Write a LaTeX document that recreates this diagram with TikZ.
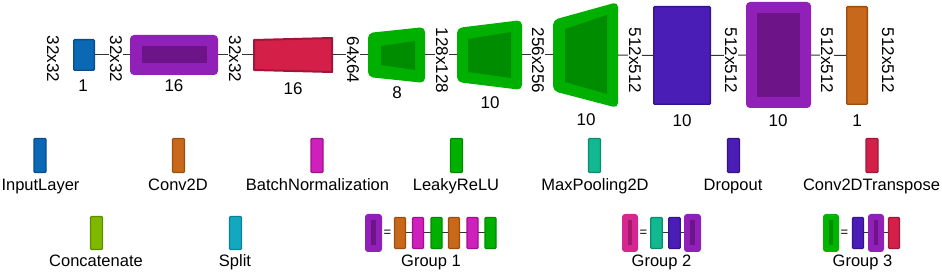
\documentclass[tikz,border=0pt]{standalone}
\usepackage{fontspec}
\setmainfont{Liberation Sans}
\definecolor{cin}{HTML}{0A68B4}\definecolor{bin}{HTML}{0A4C8C}
\definecolor{cconv}{HTML}{C8681A}\definecolor{bconv}{HTML}{9A4E10}
\definecolor{cbn}{HTML}{D020BC}\definecolor{bbn}{HTML}{A0108E}
\definecolor{crelu}{HTML}{00B000}\definecolor{brelu}{HTML}{008A00}
\definecolor{cpool}{HTML}{12B890}\definecolor{bpool}{HTML}{0C8C6C}
\definecolor{cdrop}{HTML}{4A1EB6}\definecolor{bdrop}{HTML}{36128A}
\definecolor{ctr}{HTML}{D42048}\definecolor{btr}{HTML}{A0163A}
\definecolor{ccat}{HTML}{80B800}\definecolor{bcat}{HTML}{5E8C00}
\definecolor{csplit}{HTML}{12A8C0}\definecolor{bsplit}{HTML}{0C8294}
\definecolor{cgA}{HTML}{9020B8}\definecolor{igA}{HTML}{6C1488}
\definecolor{cgB}{HTML}{D42890}\definecolor{igB}{HTML}{A4186E}
\definecolor{cgC}{HTML}{00B400}\definecolor{igC}{HTML}{008C00}
\definecolor{lin}{HTML}{333333}
\begin{document}
\begin{tikzpicture}[x=1pt,y=-1pt,
  txt/.style={font=\fontsize{17}{20}\selectfont, inner sep=0pt, text=black},
  dim/.style={txt, rotate=-90, fill=white, inner sep=1pt},
  num/.style={txt, anchor=base},
  leg/.style={txt, anchor=base, font=\fontsize{16.5}{20}\selectfont},
  bar/.style 2 args={draw=#2, fill=#1, line width=1.3pt, rounded corners=1pt, inner sep=0pt},
  grp/.style={fill=#1, rounded corners=4pt, inner sep=0pt},
  ginner/.style={fill=#1, inner sep=0pt},
  conn/.style={draw=lin, line width=1pt},
  eqs/.style={txt, font=\fontsize{13}{14}\selectfont}
]
\useasboundingbox (0,0) rectangle (942,272);

% ---------- top row ----------
\node[bar={cin}{bin}, minimum width=20.7pt, minimum height=30.7pt] (in) at (84,55) {};
\node[grp=cgA, minimum width=88pt, minimum height=40pt] (gA) at (174,55) {};
\node[ginner=igA, minimum width=65pt, minimum height=17pt] (gAi) at (174.5,54.5) {};
\draw[fill=ctr, draw=btr, line width=2pt, line join=round] (254,40) -- (332,38) -- (332,72) -- (254,70) -- cycle;
\coordinate (trw) at (253,55); \coordinate (tre) at (333,55);
\fill[crelu, rounded corners=5pt] (368,33) -- (425,27) -- (425,83) -- (368,77) -- cycle;
\fill[igC] (381,46) -- (415,41) -- (415,70) -- (381,65) -- cycle;
\coordinate (r1w) at (368,55); \coordinate (r1e) at (425,55);
\fill[crelu, rounded corners=5pt] (457,28) -- (522,20) -- (522,90) -- (457,82) -- cycle;
\fill[igC] (468,39) -- (511,32) -- (511,78) -- (468,72) -- cycle;
\coordinate (r2w) at (457,55); \coordinate (r2e) at (522,55);
\fill[crelu, rounded corners=5pt] (553,20) -- (618,2) -- (618,108) -- (553,91) -- cycle;
\fill[igC] (565,29) -- (607,15) -- (607,94) -- (565,82) -- cycle;
\coordinate (r3w) at (553,55); \coordinate (r3e) at (618,55);
\node[bar={cdrop}{bdrop}, minimum width=56.7pt, minimum height=97.7pt] (dr) at (682,55.5) {};
\node[grp=cgA, minimum width=65pt, minimum height=106pt] (gB) at (778.5,55) {};
\node[ginner=igA, minimum width=43pt, minimum height=84pt] (gBi) at (778.5,55) {};
\node[bar={cconv}{bconv}, minimum width=20.7pt, minimum height=97.7pt] (cv) at (857,55.5) {};

\draw[conn] (in.east) -- (gA.west);
\draw[conn] (gA.east) -- (trw);
\draw[conn] (tre) -- (r1w);
\draw[conn] (r1e) -- (r2w);
\draw[conn] (r2e) -- (r3w);
\draw[conn] (r3e) -- (dr.west);
\draw[conn] (dr.east) -- (gB.west);
\draw[conn] (gB.east) -- (cv.west);

\node[dim] (d0) at (53,59) {32x32};
\node[dim] (d1) at (116,59) {32x32};
\node[dim] (d2) at (235,59) {32x32};
\node[dim] (d3) at (353,60) {64x64};
\node[dim] (d4) at (442,60.5) {128x128};
\node[dim] (d5) at (538,60.5) {256x256};
\node[dim] (d6) at (635,60.5) {512x512};
\node[dim] (d7) at (731,60.5) {512x512};
\node[dim] (d8) at (827,60.5) {512x512};
\node[dim] (d9) at (888,60.5) {512x512};

\node[num] (n0) at (83,92) {1};
\node[num] (n1) at (174,92) {16};
\node[num] (n2) at (293,95) {16};
\node[num] (n3) at (397,99) {8};
\node[num] (n4) at (490,109) {10};
\node[num] (n5) at (586,126) {10};
\node[num] (n6) at (682,127) {10};
\node[num] (n7) at (778,127) {10};
\node[num] (n8) at (857,127) {1};

% ---------- legend row 1 ----------
\node[bar={cin}{bin}, minimum width=12pt, minimum height=34pt] (l1) at (40,155.5) {};
\node[bar={cconv}{bconv}, minimum width=12pt, minimum height=34pt] (l2) at (178.5,155.5) {};
\node[bar={cbn}{bbn}, minimum width=12pt, minimum height=34pt] (l3) at (317,155.5) {};
\node[bar={crelu}{brelu}, minimum width=12pt, minimum height=34pt] (l4) at (456.5,155.5) {};
\node[bar={cpool}{bpool}, minimum width=12pt, minimum height=34pt] (l5) at (594.5,155.5) {};
\node[bar={cdrop}{bdrop}, minimum width=12pt, minimum height=34pt] (l6) at (733.5,155.5) {};
\node[bar={ctr}{btr}, minimum width=12pt, minimum height=34pt] (l7) at (872,155.5) {};
\node[leg] (t1) at (40.5,191) {InputLayer};
\node[leg] (t2) at (178,191) {Conv2D};
\node[leg] (t3) at (317.5,191) {BatchNormalization};
\node[leg] (t4) at (456,191) {LeakyReLU};
\node[leg] (t5) at (595,191) {MaxPooling2D};
\node[leg] (t6) at (733,191) {Dropout};
\node[leg] (t7) at (871.5,191) {Conv2DTranspose};

% ---------- legend row 2 ----------
\node[bar={ccat}{bcat}, minimum width=12pt, minimum height=33pt] (l8) at (96.5,233) {};
\node[bar={csplit}{bsplit}, minimum width=12pt, minimum height=33pt] (l9) at (235.5,233) {};
\node[leg] (t8) at (96,267) {Concatenate};
\node[leg] (t9) at (235,267) {Split};

% group 1
\node[grp=cgA, rounded corners=3pt, minimum width=17pt, minimum height=38pt] (a0) at (373.5,233) {};
\node[ginner=igA, minimum width=4.5pt, minimum height=25pt] at (373.5,233) {};
\node[eqs] (ae) at (387.5,233) {=};
\draw[conn] (400,233) -- (490,233);
\node[bar={cconv}{bconv}, minimum width=11pt, minimum height=31pt] (a1) at (400,233) {};
\node[bar={cbn}{bbn}, minimum width=11pt, minimum height=31pt] (a2) at (418,233) {};
\node[bar={crelu}{brelu}, minimum width=11pt, minimum height=31pt] (a3) at (436.5,233) {};
\node[bar={cconv}{bconv}, minimum width=11pt, minimum height=31pt] (a4) at (454,233) {};
\node[bar={cbn}{bbn}, minimum width=11pt, minimum height=31pt] (a5) at (472.5,233) {};
\node[bar={crelu}{brelu}, minimum width=11pt, minimum height=31pt] (a6) at (490.5,233) {};
\node[leg] (ta) at (431,267) {Group 1};

% group 2
\node[grp=cgB, rounded corners=3pt, minimum width=16pt, minimum height=38pt] (b0) at (630,233) {};
\node[ginner=igB, minimum width=4.5pt, minimum height=25pt] at (630,233) {};
\node[eqs] (be) at (643.5,233) {=};
\draw[conn] (656,233) -- (692,233);
\node[bar={cpool}{bpool}, minimum width=11.5pt, minimum height=31pt] (b1) at (656.5,233) {};
\node[bar={cdrop}{bdrop}, minimum width=11.5pt, minimum height=31pt] (b2) at (674.5,233) {};
\node[grp=cgA, rounded corners=3pt, minimum width=17pt, minimum height=38pt] (b3) at (692.5,233) {};
\node[ginner=igA, minimum width=4.5pt, minimum height=25pt] at (692.5,233) {};
\node[leg] (tb) at (661.5,267) {Group 2};

% group 3
\node[grp=cgC, rounded corners=3pt, minimum width=16pt, minimum height=38pt] (c0) at (831,233) {};
\node[ginner=igC, minimum width=4.5pt, minimum height=25pt] at (831,233) {};
\node[eqs] (ce) at (844.5,233) {=};
\draw[conn] (858,233) -- (894,233);
\node[bar={cdrop}{bdrop}, minimum width=11pt, minimum height=31pt] (c1) at (858,233) {};
\node[grp=cgA, rounded corners=3pt, minimum width=16pt, minimum height=38pt] (c2) at (876,233) {};
\node[ginner=igA, minimum width=4.5pt, minimum height=25pt] at (876,233) {};
\node[bar={ctr}{btr}, minimum width=11pt, minimum height=31pt] (c3) at (894,233) {};
\node[leg] (tc) at (862.5,267) {Group 3};
\end{tikzpicture}
\end{document}
